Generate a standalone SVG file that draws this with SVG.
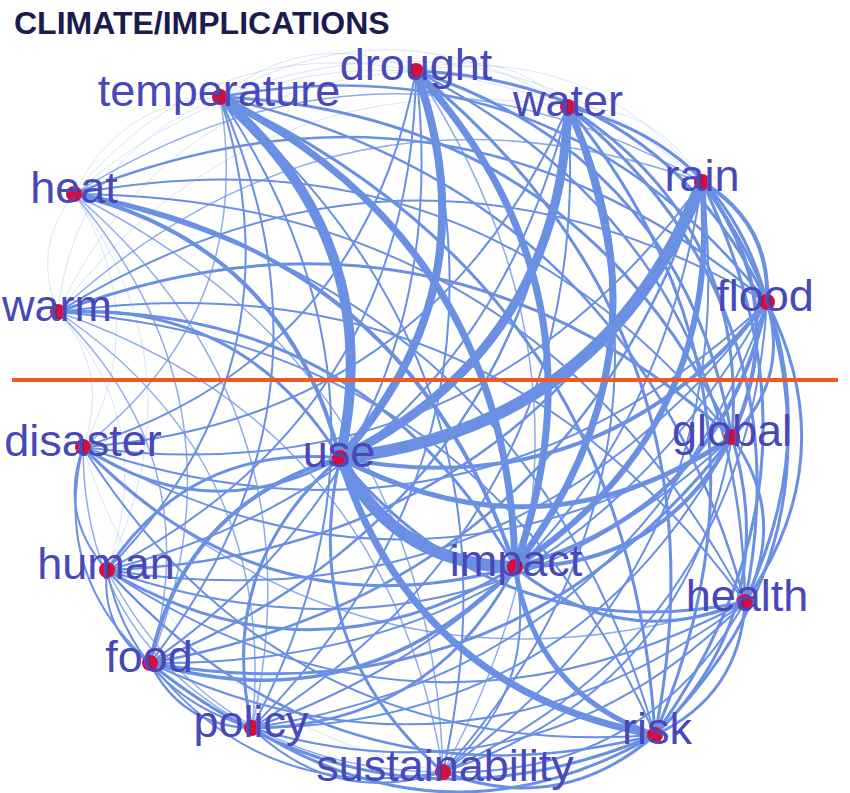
<svg xmlns="http://www.w3.org/2000/svg" width="850" height="793" viewBox="0 0 850 793">
<style>
.e{fill:none;stroke:#6a90e4;stroke-linecap:round;vector-effect:non-scaling-stroke}
.f{stroke-opacity:.25;stroke-width:1}
.a{stroke-width:1.5;stroke-opacity:.75}
.b{stroke-width:2}
.c{stroke-width:2.5}
.d{stroke-width:3}
.g{stroke-width:3.5}
.h{stroke-width:4}
.i{stroke-width:5}
.j{stroke-width:6}
.k{stroke-width:7}
.l{stroke-width:8}
.m{stroke-width:9}
.n{stroke-width:10}
.o{stroke-width:12}
.lb{font-family:"Liberation Sans",Arial,sans-serif;font-size:45px;fill:#4848b8;text-anchor:middle}
.dot{fill:#d40f3f}
.title{font-family:"Liberation Sans",Arial,sans-serif;font-size:32px;font-weight:bold;fill:#1b1b4d}
</style>
<rect width="850" height="793" fill="#fff"/>
<text class="title" x="14" y="34">CLIMATE/IMPLICATIONS</text>
<g id="edges">
<!-- warm -->
<path class="e f" d="M0,0Q.5,-.3 1,0" transform="matrix(16,-118,118,16,58,312)"/>
<path class="e f" d="M0,0Q.5,-.3 1,0" transform="matrix(162,-215,215,162,58,312)"/>
<path class="e f" d="M0,0Q.5,-.3 1,0" transform="matrix(358,-241,241,358,58,312)"/>
<path class="e f" d="M0,0Q.5,-.3 1,0" transform="matrix(510,-205,205,510,58,312)"/>
<path class="e a" d="M0,0Q.5,-.3 1,0" transform="matrix(644,-130,130,644,58,312)"/>
<path class="e b" d="M0,0Q.5,-.3 1,0" transform="matrix(709,-10,10,709,58,312)"/>
<path class="e d" d="M0,0Q.5,-.3 1,0" transform="matrix(674,125,-125,674,58,312)"/>
<path class="e b" d="M0,0Q.5,-.3 1,0" transform="matrix(687,290,-290,687,58,312)"/>
<path class="e b" d="M0,0Q.5,-.3 1,0" transform="matrix(597,423,-423,597,58,312)"/>
<path class="e d" d="M0,0Q.5,-.3 1,0" transform="matrix(457,255,-255,457,58,312)"/>
<path class="e a" d="M0,0Q.5,-.3 1,0" transform="matrix(385,460,-460,385,58,312)"/>
<path class="e a" d="M0,0Q.5,-.3 1,0" transform="matrix(194,416,-416,194,58,312)"/>
<path class="e a" d="M0,0Q.5,-.3 1,0" transform="matrix(92,351,-351,92,58,312)"/>
<path class="e f" d="M0,0Q.5,-.3 1,0" transform="matrix(49,258,-258,49,58,312)"/>
<path class="e d" d="M0,0Q.5,-.3 1,0" transform="matrix(282,146,-146,282,58,312)"/>
<path class="e f" d="M0,0Q.5,-.3 1,0" transform="matrix(25,135,-135,25,58,312)"/>
<!-- heat -->
<path class="e f" d="M0,0Q.5,-.3 1,0" transform="matrix(146,-97,97,146,74,194)"/>
<path class="e f" d="M0,0Q.5,-.3 1,0" transform="matrix(342,-123,123,342,74,194)"/>
<path class="e f" d="M0,0Q.5,-.3 1,0" transform="matrix(494,-87,87,494,74,194)"/>
<path class="e a" d="M0,0Q.5,-.3 1,0" transform="matrix(628,-12,12,628,74,194)"/>
<path class="e c" d="M0,0Q.5,-.3 1,0" transform="matrix(693,108,-108,693,74,194)"/>
<path class="e b" d="M0,0Q.5,-.3 1,0" transform="matrix(658,243,-243,658,74,194)"/>
<path class="e b" d="M0,0Q.5,-.3 1,0" transform="matrix(671,408,-408,671,74,194)"/>
<path class="e b" d="M0,0Q.5,-.3 1,0" transform="matrix(581,541,-541,581,74,194)"/>
<path class="e h" d="M0,0Q.5,-.3 1,0" transform="matrix(441,373,-373,441,74,194)"/>
<path class="e a" d="M0,0Q.5,-.3 1,0" transform="matrix(369,578,-578,369,74,194)"/>
<path class="e a" d="M0,0Q.5,-.3 1,0" transform="matrix(178,534,-534,178,74,194)"/>
<path class="e a" d="M0,0Q.5,-.3 1,0" transform="matrix(76,469,-469,76,74,194)"/>
<path class="e f" d="M0,0Q.5,-.3 1,0" transform="matrix(33,376,-376,33,74,194)"/>
<path class="e h" d="M0,0Q.5,-.3 1,0" transform="matrix(266,264,-264,266,74,194)"/>
<path class="e f" d="M0,0Q.5,-.3 1,0" transform="matrix(9,253,-253,9,74,194)"/>
<!-- temperature -->
<path class="e f" d="M0,0Q.5,-.3 1,0" transform="matrix(196,-26,26,196,220,97)"/>
<path class="e f" d="M0,0Q.5,-.3 1,0" transform="matrix(348,10,-10,348,220,97)"/>
<path class="e f" d="M0,0Q.5,-.3 1,0" transform="matrix(482,85,-85,482,220,97)"/>
<path class="e c" d="M0,0Q.5,-.3 1,0" transform="matrix(547,205,-205,547,220,97)"/>
<path class="e d" d="M0,0Q.5,-.3 1,0" transform="matrix(512,340,-340,512,220,97)"/>
<path class="e c" d="M0,0Q.5,-.3 1,0" transform="matrix(525,505,-505,525,220,97)"/>
<path class="e d" d="M0,0Q.5,-.3 1,0" transform="matrix(435,638,-638,435,220,97)"/>
<path class="e k" d="M0,0Q.5,-.3 1,0" transform="matrix(295,470,-470,295,220,97)"/>
<path class="e b" d="M0,0Q.5,-.3 1,0" transform="matrix(223,675,-675,223,220,97)"/>
<path class="e b" d="M0,0Q.5,-.3 1,0" transform="matrix(32,631,-631,32,220,97)"/>
<path class="e b" d="M0,0Q.5,-.3 1,0" transform="matrix(-70,566,-566,-70,220,97)"/>
<path class="e b" d="M0,0Q.5,-.3 1,0" transform="matrix(-113,473,-473,-113,220,97)"/>
<path class="e n" d="M0,0Q.5,-.3 1,0" transform="matrix(120,361,-361,120,220,97)"/>
<path class="e a" d="M0,0Q.5,-.3 1,0" transform="matrix(-137,350,-350,-137,220,97)"/>
<!-- drought -->
<path class="e f" d="M0,0Q.5,-.3 1,0" transform="matrix(152,36,-36,152,416,71)"/>
<path class="e f" d="M0,0Q.5,-.3 1,0" transform="matrix(286,111,-111,286,416,71)"/>
<path class="e d" d="M0,0Q.5,-.3 1,0" transform="matrix(351,231,-231,351,416,71)"/>
<path class="e d" d="M0,0Q.5,-.3 1,0" transform="matrix(316,366,-366,316,416,71)"/>
<path class="e c" d="M0,0Q.5,-.3 1,0" transform="matrix(329,531,-531,329,416,71)"/>
<path class="e d" d="M0,0Q.5,-.3 1,0" transform="matrix(239,664,-664,239,416,71)"/>
<path class="e k" d="M0,0Q.5,-.3 1,0" transform="matrix(99,496,-496,99,416,71)"/>
<path class="e a" d="M0,0Q.5,-.3 1,0" transform="matrix(27,701,-701,27,416,71)"/>
<path class="e b" d="M0,0Q.5,-.3 1,0" transform="matrix(-164,657,-657,-164,416,71)"/>
<path class="e b" d="M0,0Q.5,-.3 1,0" transform="matrix(-266,592,-592,-266,416,71)"/>
<path class="e b" d="M0,0Q.5,-.3 1,0" transform="matrix(-309,499,-499,-309,416,71)"/>
<path class="e l" d="M0,0Q.5,-.3 1,0" transform="matrix(-76,387,-387,-76,416,71)"/>
<path class="e b" d="M0,0Q.5,-.3 1,0" transform="matrix(-333,376,-376,-333,416,71)"/>
<!-- water -->
<path class="e f" d="M0,0Q.5,-.3 1,0" transform="matrix(134,75,-75,134,568,107)"/>
<path class="e d" d="M0,0Q.5,-.3 1,0" transform="matrix(199,195,-195,199,568,107)"/>
<path class="e d" d="M0,0Q.5,-.3 1,0" transform="matrix(164,330,-330,164,568,107)"/>
<path class="e d" d="M0,0Q.5,-.3 1,0" transform="matrix(177,495,-495,177,568,107)"/>
<path class="e d" d="M0,0Q.5,-.3 1,0" transform="matrix(87,628,-628,87,568,107)"/>
<path class="e k" d="M0,0Q.5,-.3 1,0" transform="matrix(-53,460,-460,-53,568,107)"/>
<path class="e b" d="M0,0Q.5,-.3 1,0" transform="matrix(-125,665,-665,-125,568,107)"/>
<path class="e b" d="M0,0Q.5,-.3 1,0" transform="matrix(-316,621,-621,-316,568,107)"/>
<path class="e c" d="M0,0Q.5,-.3 1,0" transform="matrix(-418,556,-556,-418,568,107)"/>
<path class="e b" d="M0,0Q.5,-.3 1,0" transform="matrix(-461,463,-463,-461,568,107)"/>
<path class="e m" d="M0,0Q.5,-.3 1,0" transform="matrix(-228,351,-351,-228,568,107)"/>
<path class="e b" d="M0,0Q.5,-.3 1,0" transform="matrix(-485,340,-340,-485,568,107)"/>
<!-- rain -->
<path class="e h" d="M0,0Q.5,-.3 1,0" transform="matrix(65,120,-120,65,702,182)"/>
<path class="e h" d="M0,0Q.5,-.3 1,0" transform="matrix(30,255,-255,30,702,182)"/>
<path class="e d" d="M0,0Q.5,-.3 1,0" transform="matrix(43,420,-420,43,702,182)"/>
<path class="e d" d="M0,0Q.5,-.3 1,0" transform="matrix(-47,553,-553,-47,702,182)"/>
<path class="e j" d="M0,0Q.5,-.3 1,0" transform="matrix(-187,385,-385,-187,702,182)"/>
<path class="e b" d="M0,0Q.5,-.3 1,0" transform="matrix(-259,590,-590,-259,702,182)"/>
<path class="e b" d="M0,0Q.5,-.3 1,0" transform="matrix(-450,546,-546,-450,702,182)"/>
<path class="e c" d="M0,0Q.5,-.3 1,0" transform="matrix(-552,481,-481,-552,702,182)"/>
<path class="e c" d="M0,0Q.5,-.3 1,0" transform="matrix(-595,388,-388,-595,702,182)"/>
<path class="e o" d="M0,0Q.5,-.3 1,0" transform="matrix(-362,276,-276,-362,702,182)"/>
<path class="e b" d="M0,0Q.5,-.3 1,0" transform="matrix(-619,265,-265,-619,702,182)"/>
<!-- flood -->
<path class="e d" d="M0,0Q.5,-.3 1,0" transform="matrix(-35,135,-135,-35,767,302)"/>
<path class="e d" d="M0,0Q.5,-.3 1,0" transform="matrix(-22,300,-300,-22,767,302)"/>
<path class="e d" d="M0,0Q.5,-.3 1,0" transform="matrix(-112,433,-433,-112,767,302)"/>
<path class="e h" d="M0,0Q.5,-.3 1,0" transform="matrix(-252,265,-265,-252,767,302)"/>
<path class="e b" d="M0,0Q.5,-.3 1,0" transform="matrix(-324,470,-470,-324,767,302)"/>
<path class="e b" d="M0,0Q.5,-.3 1,0" transform="matrix(-515,426,-426,-515,767,302)"/>
<path class="e b" d="M0,0Q.5,-.3 1,0" transform="matrix(-617,361,-361,-617,767,302)"/>
<path class="e b" d="M0,0Q.5,-.3 1,0" transform="matrix(-660,268,-268,-660,767,302)"/>
<path class="e h" d="M0,0Q.5,-.3 1,0" transform="matrix(-427,156,-156,-427,767,302)"/>
<path class="e b" d="M0,0Q.5,-.3 1,0" transform="matrix(-684,145,-145,-684,767,302)"/>
<!-- global -->
<path class="e d" d="M0,0Q.5,-.3 1,0" transform="matrix(13,165,-165,13,732,437)"/>
<path class="e d" d="M0,0Q.5,-.3 1,0" transform="matrix(-77,298,-298,-77,732,437)"/>
<path class="e h" d="M0,0Q.5,-.3 1,0" transform="matrix(-217,130,-130,-217,732,437)"/>
<path class="e b" d="M0,0Q.5,-.3 1,0" transform="matrix(-289,335,-335,-289,732,437)"/>
<path class="e b" d="M0,0Q.5,-.3 1,0" transform="matrix(-480,291,-291,-480,732,437)"/>
<path class="e d" d="M0,0Q.5,-.3 1,0" transform="matrix(-582,226,-226,-582,732,437)"/>
<path class="e b" d="M0,0Q.5,-.3 1,0" transform="matrix(-625,133,-133,-625,732,437)"/>
<path class="e i" d="M0,0Q.5,-.3 1,0" transform="matrix(-392,21,-21,-392,732,437)"/>
<path class="e b" d="M0,0Q.5,-.3 1,0" transform="matrix(-649,10,-10,-649,732,437)"/>
<!-- health -->
<path class="e d" d="M0,0Q.5,-.3 1,0" transform="matrix(-90,133,-133,-90,745,602)"/>
<path class="e d" d="M0,0Q.5,-.3 1,0" transform="matrix(-230,-35,35,-230,745,602)"/>
<path class="e b" d="M0,0Q.5,-.3 1,0" transform="matrix(-302,170,-170,-302,745,602)"/>
<path class="e b" d="M0,0Q.5,-.3 1,0" transform="matrix(-493,126,-126,-493,745,602)"/>
<path class="e b" d="M0,0Q.5,-.3 1,0" transform="matrix(-595,61,-61,-595,745,602)"/>
<path class="e b" d="M0,0Q.5,-.3 1,0" transform="matrix(-638,-32,32,-638,745,602)"/>
<path class="e d" d="M0,0Q.5,-.3 1,0" transform="matrix(-405,-144,144,-405,745,602)"/>
<path class="e a" d="M0,0Q.5,-.3 1,0" transform="matrix(-662,-155,155,-662,745,602)"/>
<!-- risk -->
<path class="e i" d="M0,0Q.5,-.3 1,0" transform="matrix(-140,-168,168,-140,655,735)"/>
<path class="e d" d="M0,0Q.5,-.3 1,0" transform="matrix(-212,37,-37,-212,655,735)"/>
<path class="e d" d="M0,0Q.5,-.3 1,0" transform="matrix(-403,-7,7,-403,655,735)"/>
<path class="e d" d="M0,0Q.5,-.3 1,0" transform="matrix(-505,-72,72,-505,655,735)"/>
<path class="e c" d="M0,0Q.5,-.3 1,0" transform="matrix(-548,-165,165,-548,655,735)"/>
<path class="e k" d="M0,0Q.5,-.3 1,0" transform="matrix(-315,-277,277,-315,655,735)"/>
<path class="e b" d="M0,0Q.5,-.3 1,0" transform="matrix(-572,-288,288,-572,655,735)"/>
<!-- impact -->
<path class="e b" d="M0,0Q.5,-.3 1,0" transform="matrix(-72,205,-205,-72,515,567)"/>
<path class="e d" d="M0,0Q.5,-.3 1,0" transform="matrix(-263,161,-161,-263,515,567)"/>
<path class="e g" d="M0,0Q.5,-.3 1,0" transform="matrix(-365,96,-96,-365,515,567)"/>
<path class="e d" d="M0,0Q.5,-.3 1,0" transform="matrix(-408,3,-3,-408,515,567)"/>
<path class="e o" d="M0,0Q.5,-.3 1,0" transform="matrix(-175,-109,109,-175,515,567)"/>
<path class="e d" d="M0,0Q.5,-.3 1,0" transform="matrix(-432,-120,120,-432,515,567)"/>
<!-- sustainability -->
<path class="e b" d="M0,0Q.5,-.3 1,0" transform="matrix(-191,-44,44,-191,443,772)"/>
<path class="e b" d="M0,0Q.5,-.3 1,0" transform="matrix(-293,-109,109,-293,443,772)"/>
<path class="e a" d="M0,0Q.5,-.3 1,0" transform="matrix(-336,-202,202,-336,443,772)"/>
<path class="e d" d="M0,0Q.5,-.3 1,0" transform="matrix(-103,-314,314,-103,443,772)"/>
<path class="e f" d="M0,0Q.5,-.3 1,0" transform="matrix(-360,-325,325,-360,443,772)"/>
<!-- policy -->
<path class="e c" d="M0,0Q.5,-.3 1,0" transform="matrix(-102,-65,65,-102,252,728)"/>
<path class="e b" d="M0,0Q.5,-.3 1,0" transform="matrix(-145,-158,158,-145,252,728)"/>
<path class="e d" d="M0,0Q.5,-.3 1,0" transform="matrix(88,-270,270,88,252,728)"/>
<path class="e a" d="M0,0Q.5,-.3 1,0" transform="matrix(-169,-281,281,-169,252,728)"/>
<!-- food -->
<path class="e b" d="M0,0Q.5,-.3 1,0" transform="matrix(-43,-93,93,-43,150,663)"/>
<path class="e h" d="M0,0Q.5,-.3 1,0" transform="matrix(190,-205,205,190,150,663)"/>
<path class="e b" d="M0,0Q.5,-.3 1,0" transform="matrix(-67,-216,216,-67,150,663)"/>
<!-- human -->
<path class="e d" d="M0,0Q.5,-.3 1,0" transform="matrix(233,-112,112,233,107,570)"/>
<path class="e b" d="M0,0Q.5,-.3 1,0" transform="matrix(-24,-123,123,-24,107,570)"/>
<!-- use -->
<path class="e d" d="M0,0Q.5,-.3 1,0" transform="matrix(-257,-11,11,-257,340,458)"/>
</g>
<line id="divider" x1="12" y1="380" x2="838" y2="380" stroke="#f05a22" stroke-width="4"/>
<g id="n-temperature"><circle class="dot" cx="220" cy="97" r="8"/><text class="lb" x="219" y="106">temperature</text></g>
<g id="n-drought"><circle class="dot" cx="416" cy="71" r="8"/><text class="lb" x="416" y="80">drought</text></g>
<g id="n-water"><circle class="dot" cx="568" cy="107" r="8"/><text class="lb" x="568" y="116">water</text></g>
<g id="n-rain"><circle class="dot" cx="702" cy="182" r="8"/><text class="lb" x="702" y="191">rain</text></g>
<g id="n-heat"><circle class="dot" cx="74" cy="194" r="8"/><text class="lb" x="74" y="203">heat</text></g>
<g id="n-warm"><circle class="dot" cx="58" cy="312" r="8"/><text class="lb" x="57" y="321">warm</text></g>
<g id="n-flood"><circle class="dot" cx="767" cy="302" r="8"/><text class="lb" x="765" y="311">flood</text></g>
<g id="n-disaster"><circle class="dot" cx="83" cy="447" r="8"/><text class="lb" x="83" y="456">disaster</text></g>
<g id="n-use"><circle class="dot" cx="340" cy="458" r="8"/><text class="lb" x="339" y="467">use</text></g>
<g id="n-global"><circle class="dot" cx="732" cy="437" r="8"/><text class="lb" x="732" y="446">global</text></g>
<g id="n-human"><circle class="dot" cx="107" cy="570" r="8"/><text class="lb" x="106" y="579">human</text></g>
<g id="n-impact"><circle class="dot" cx="515" cy="567" r="8"/><text class="lb" x="516" y="576">impact</text></g>
<g id="n-health"><circle class="dot" cx="745" cy="602" r="8"/><text class="lb" x="747" y="611">health</text></g>
<g id="n-food"><circle class="dot" cx="150" cy="663" r="8"/><text class="lb" x="149" y="672">food</text></g>
<g id="n-policy"><circle class="dot" cx="252" cy="728" r="8"/><text class="lb" x="251" y="737">policy</text></g>
<g id="n-risk"><circle class="dot" cx="655" cy="735" r="8"/><text class="lb" x="657" y="744">risk</text></g>
<g id="n-sustainability"><circle class="dot" cx="443" cy="772" r="8"/><text class="lb" x="445" y="781">sustainability</text></g>
</svg>
